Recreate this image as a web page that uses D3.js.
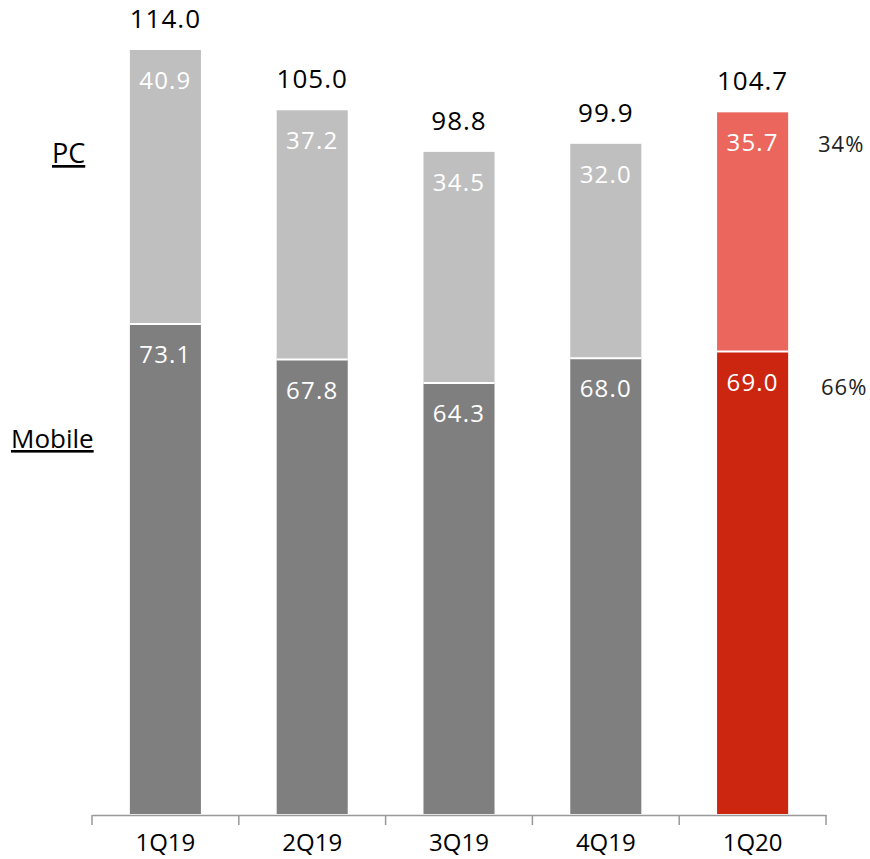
<!DOCTYPE html>
<html>
<head>
<meta charset="utf-8">
<script src="https://cdn.jsdelivr.net/npm/d3@7"></script>
<style>
  html, body { margin: 0; padding: 0; background: #fff; }
  svg { display: block; font-family: "Open Sans", "Noto Sans", sans-serif; }
</style>
</head>
<body>
<svg id="chart" width="870" height="859"></svg>
<script>
// Quarterly visits, split into mobile and PC
const quarters = ["1Q19", "2Q19", "3Q19", "4Q19", "1Q20"];
const mobile = [73.1, 67.8, 64.3, 68.0, 69.0];
const pc = [40.9, 37.2, 34.5, 32.0, 35.7];
const totals = [114.0, 105.0, 98.8, 99.9, 104.7];
const shareLabels = ["34%", "66%"]; // latest quarter: PC share, mobile share

const svg = d3.select("#chart");

const x = d3.scaleBand()
  .domain(quarters)
  .range([92, 826])
  .paddingInner(0.516)
  .paddingOuter(0.258);

const y = d3.scaleLinear()
  .domain([0, 114])
  .range([814, 50]);

const colors = {
  mobile: "#7f7f7f",
  pc: "#bfbfbf",
  mobileHi: "#cc2510",
  pcHi: "#eb675d"
};
const last = quarters.length - 1;

const rows = quarters.map((q, i) => ({ q, i, mobile: mobile[i], pc: pc[i], total: totals[i] }));

const bars = svg.append("g");

// Mobile segment (bottom)
bars.selectAll("rect.mobile").data(rows).join("rect")
  .attr("class", "mobile")
  .attr("x", d => x(d.q))
  .attr("width", x.bandwidth())
  .attr("y", d => y(d.mobile))
  .attr("height", d => y(0) - y(d.mobile))
  .attr("fill", d => d.i === last ? colors.mobileHi : colors.mobile);

// PC segment (top)
bars.selectAll("rect.pc").data(rows).join("rect")
  .attr("class", "pc")
  .attr("x", d => x(d.q))
  .attr("width", x.bandwidth())
  .attr("y", d => y(d.mobile + d.pc))
  .attr("height", d => y(d.mobile) - y(d.mobile + d.pc))
  .attr("fill", d => d.i === last ? colors.pcHi : colors.pc);

// White divider between segments
bars.selectAll("line.sep").data(rows).join("line")
  .attr("class", "sep")
  .attr("x1", d => x(d.q))
  .attr("x2", d => x(d.q) + x.bandwidth())
  .attr("y1", d => y(d.mobile))
  .attr("y2", d => y(d.mobile))
  .attr("stroke", "#fff")
  .attr("stroke-width", 2);

// Segment value labels
bars.selectAll("text.pcv").data(rows).join("text")
  .attr("x", d => x(d.q) + x.bandwidth() / 2)
  .attr("y", d => y(d.mobile + d.pc) + 39)
  .attr("text-anchor", "middle")
  .attr("fill", "#fff")
  .attr("font-size", 24)
  .attr("letter-spacing", 1.2)
  .text(d => d.pc.toFixed(1));

bars.selectAll("text.mv").data(rows).join("text")
  .attr("x", d => x(d.q) + x.bandwidth() / 2)
  .attr("y", d => y(d.mobile) + 39)
  .attr("text-anchor", "middle")
  .attr("fill", "#fff")
  .attr("font-size", 24)
  .attr("letter-spacing", 1.2)
  .text(d => d.mobile.toFixed(1));

// Totals above bars
bars.selectAll("text.tot").data(rows).join("text")
  .attr("x", d => x(d.q) + x.bandwidth() / 2)
  .attr("y", d => y(d.total) - 22)
  .attr("text-anchor", "middle")
  .attr("fill", "#000")
  .attr("font-size", 26)
  .attr("letter-spacing", 1)
  .text(d => d.total.toFixed(1));

// Category axis
const axis = svg.append("g")
  .attr("transform", `translate(0,${y(0) + 1})`)
  .call(d3.axisBottom(x).tickSize(0).tickPadding(19));
axis.select(".domain").attr("stroke", "#999").attr("stroke-width", 1.5);
axis.selectAll(".tick text").attr("font-size", 24).attr("fill", "#000")
  .attr("font-family", "\"Open Sans\", \"Noto Sans\", sans-serif");

// Tick marks at band boundaries
const bounds = quarters.map(q => x(q) - x.step() * x.paddingInner() / 2)
  .concat([x(quarters[last]) + x.bandwidth() + x.step() * x.paddingInner() / 2]);
svg.append("g").selectAll("line").data(bounds).join("line")
  .attr("x1", d => d).attr("x2", d => d)
  .attr("y1", y(0) + 1).attr("y2", y(0) + 11)
  .attr("stroke", "#999").attr("stroke-width", 1.5);

// Series names on the left
const legend = svg.append("g").attr("fill", "#000")
  .attr("text-decoration", "underline");
legend.append("text").attr("x", 52).attr("y", 163).attr("font-size", 27).text("PC");
legend.append("text").attr("x", 11).attr("y", 448).attr("font-size", 26).text("Mobile");

// Share of latest quarter on the right
const shares = svg.append("g").attr("font-size", 22).attr("fill", "#222")
  .attr("letter-spacing", 1);
shares.append("text").attr("x", 818).attr("y", 152).text(shareLabels[0]);
shares.append("text").attr("x", 821).attr("y", 395).text(shareLabels[1]);
</script>
</body>
</html>
